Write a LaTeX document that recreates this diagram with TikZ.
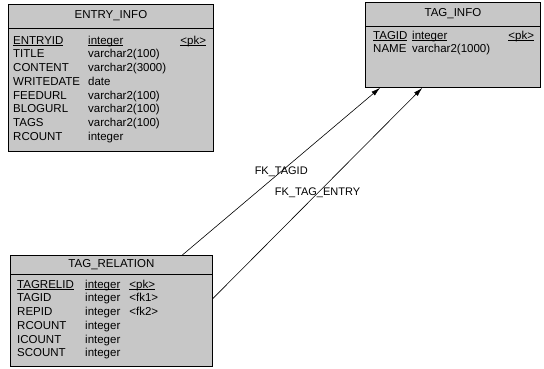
\documentclass[tikz,border=0pt]{standalone}
\usepackage{fontspec}
\setmainfont{Liberation Sans}
\usetikzlibrary{matrix, arrows.meta, calc}

% primary key underline, close under the baseline
\newcommand\keyline[1]{\leavevmode\setbox0\hbox{#1}\rlap{\rule[-1.6pt]{\wd0}{0.6pt}}\box0}

\tikzset{
  tablebox/.style={draw, line width=.8pt, fill=black!22, inner sep=0pt, anchor=north west},
  title/.style={font=\fontsize{11.5}{13}\selectfont},
  fields/.style={matrix of nodes, inner sep=0pt, anchor=north west, row sep=1.7pt,
    nodes={anchor=base west, inner sep=0pt, align=left, text height=9pt, text depth=3pt,
      font=\fontsize{11.5}{13}\selectfont}},
  fk/.style={-{Latex[length=9pt, width=5pt]}, line width=.6pt},
  fklabel/.style={font=\fontsize{11}{13}\selectfont, inner sep=0pt}
}

\begin{document}
\begin{tikzpicture}[x=1pt, y=-1pt]
\useasboundingbox (0,0) rectangle (544,368);

% ENTRY_INFO
\node[tablebox, minimum width=205pt, minimum height=147pt] (entry) at (8,4) {};
\node[title] (entryt) at ($(entry.north)+(0,12)$) {ENTRY\_INFO};
\draw ($(entry.north west)+(0,24)$) -- ($(entry.north east)+(0,24)$);
\matrix (entrycols) [fields, column 1/.style={nodes={text width=75pt}},
  column 2/.style={nodes={text width=92pt}}] at (13,35) {
\keyline{ENTRYID} & \keyline{integer} & \keyline{<pk>} \\
TITLE & varchar2(100) & \\
CONTENT & varchar2(3000) & \\
WRITEDATE & date & \\
FEEDURL & varchar2(100) & \\
BLOGURL & varchar2(100) & \\
TAGS & varchar2(100) & \\
RCOUNT & integer & \\
};

% TAG_INFO
\node[tablebox, minimum width=175pt, minimum height=85pt] (tag) at (365,2) {};
\node[title] (tagt) at ($(tag.north)+(0,12)$) {TAG\_INFO};
\draw ($(tag.north west)+(0,24)$) -- ($(tag.north east)+(0,24)$);
\matrix (tagcols) [fields, column 1/.style={nodes={text width=39pt}},
  column 2/.style={nodes={text width=96pt}}] at (373,30) {
\keyline{TAGID} & \keyline{integer} & \keyline{<pk>} \\
NAME & varchar2(1000) & \\
};

% TAG_RELATION
\node[tablebox, minimum width=202pt, minimum height=111pt] (rel) at (10,255) {};
\node[title] (relt) at ($(rel.north)+(0,10)$) {TAG\_RELATION};
\draw ($(rel.north west)+(0,19)$) -- ($(rel.north east)+(0,19)$);
\matrix (relcols) [fields, column 1/.style={nodes={text width=68pt}},
  column 2/.style={nodes={text width=44pt}}] at (17,279) {
\keyline{TAGRELID} & \keyline{integer} & \keyline{<pk>} \\
TAGID & integer & <fk1> \\
REPID & integer & <fk2> \\
RCOUNT & integer & \\
ICOUNT & integer & \\
SCOUNT & integer & \\
};

% foreign keys
\draw[fk] ($(rel.north west)!.85!(rel.north east)$) -- ($(tag.south west)!.086!(tag.south east)$)
  node[fklabel, pos=.5]{FK\_TAGID};
\draw[fk] ($(rel.north east)!.39!(rel.south east)$) -- ($(tag.south west)!.326!(tag.south east)$)
  node[fklabel, pos=.5]{FK\_TAG\_ENTRY};
\end{tikzpicture}
\end{document}
